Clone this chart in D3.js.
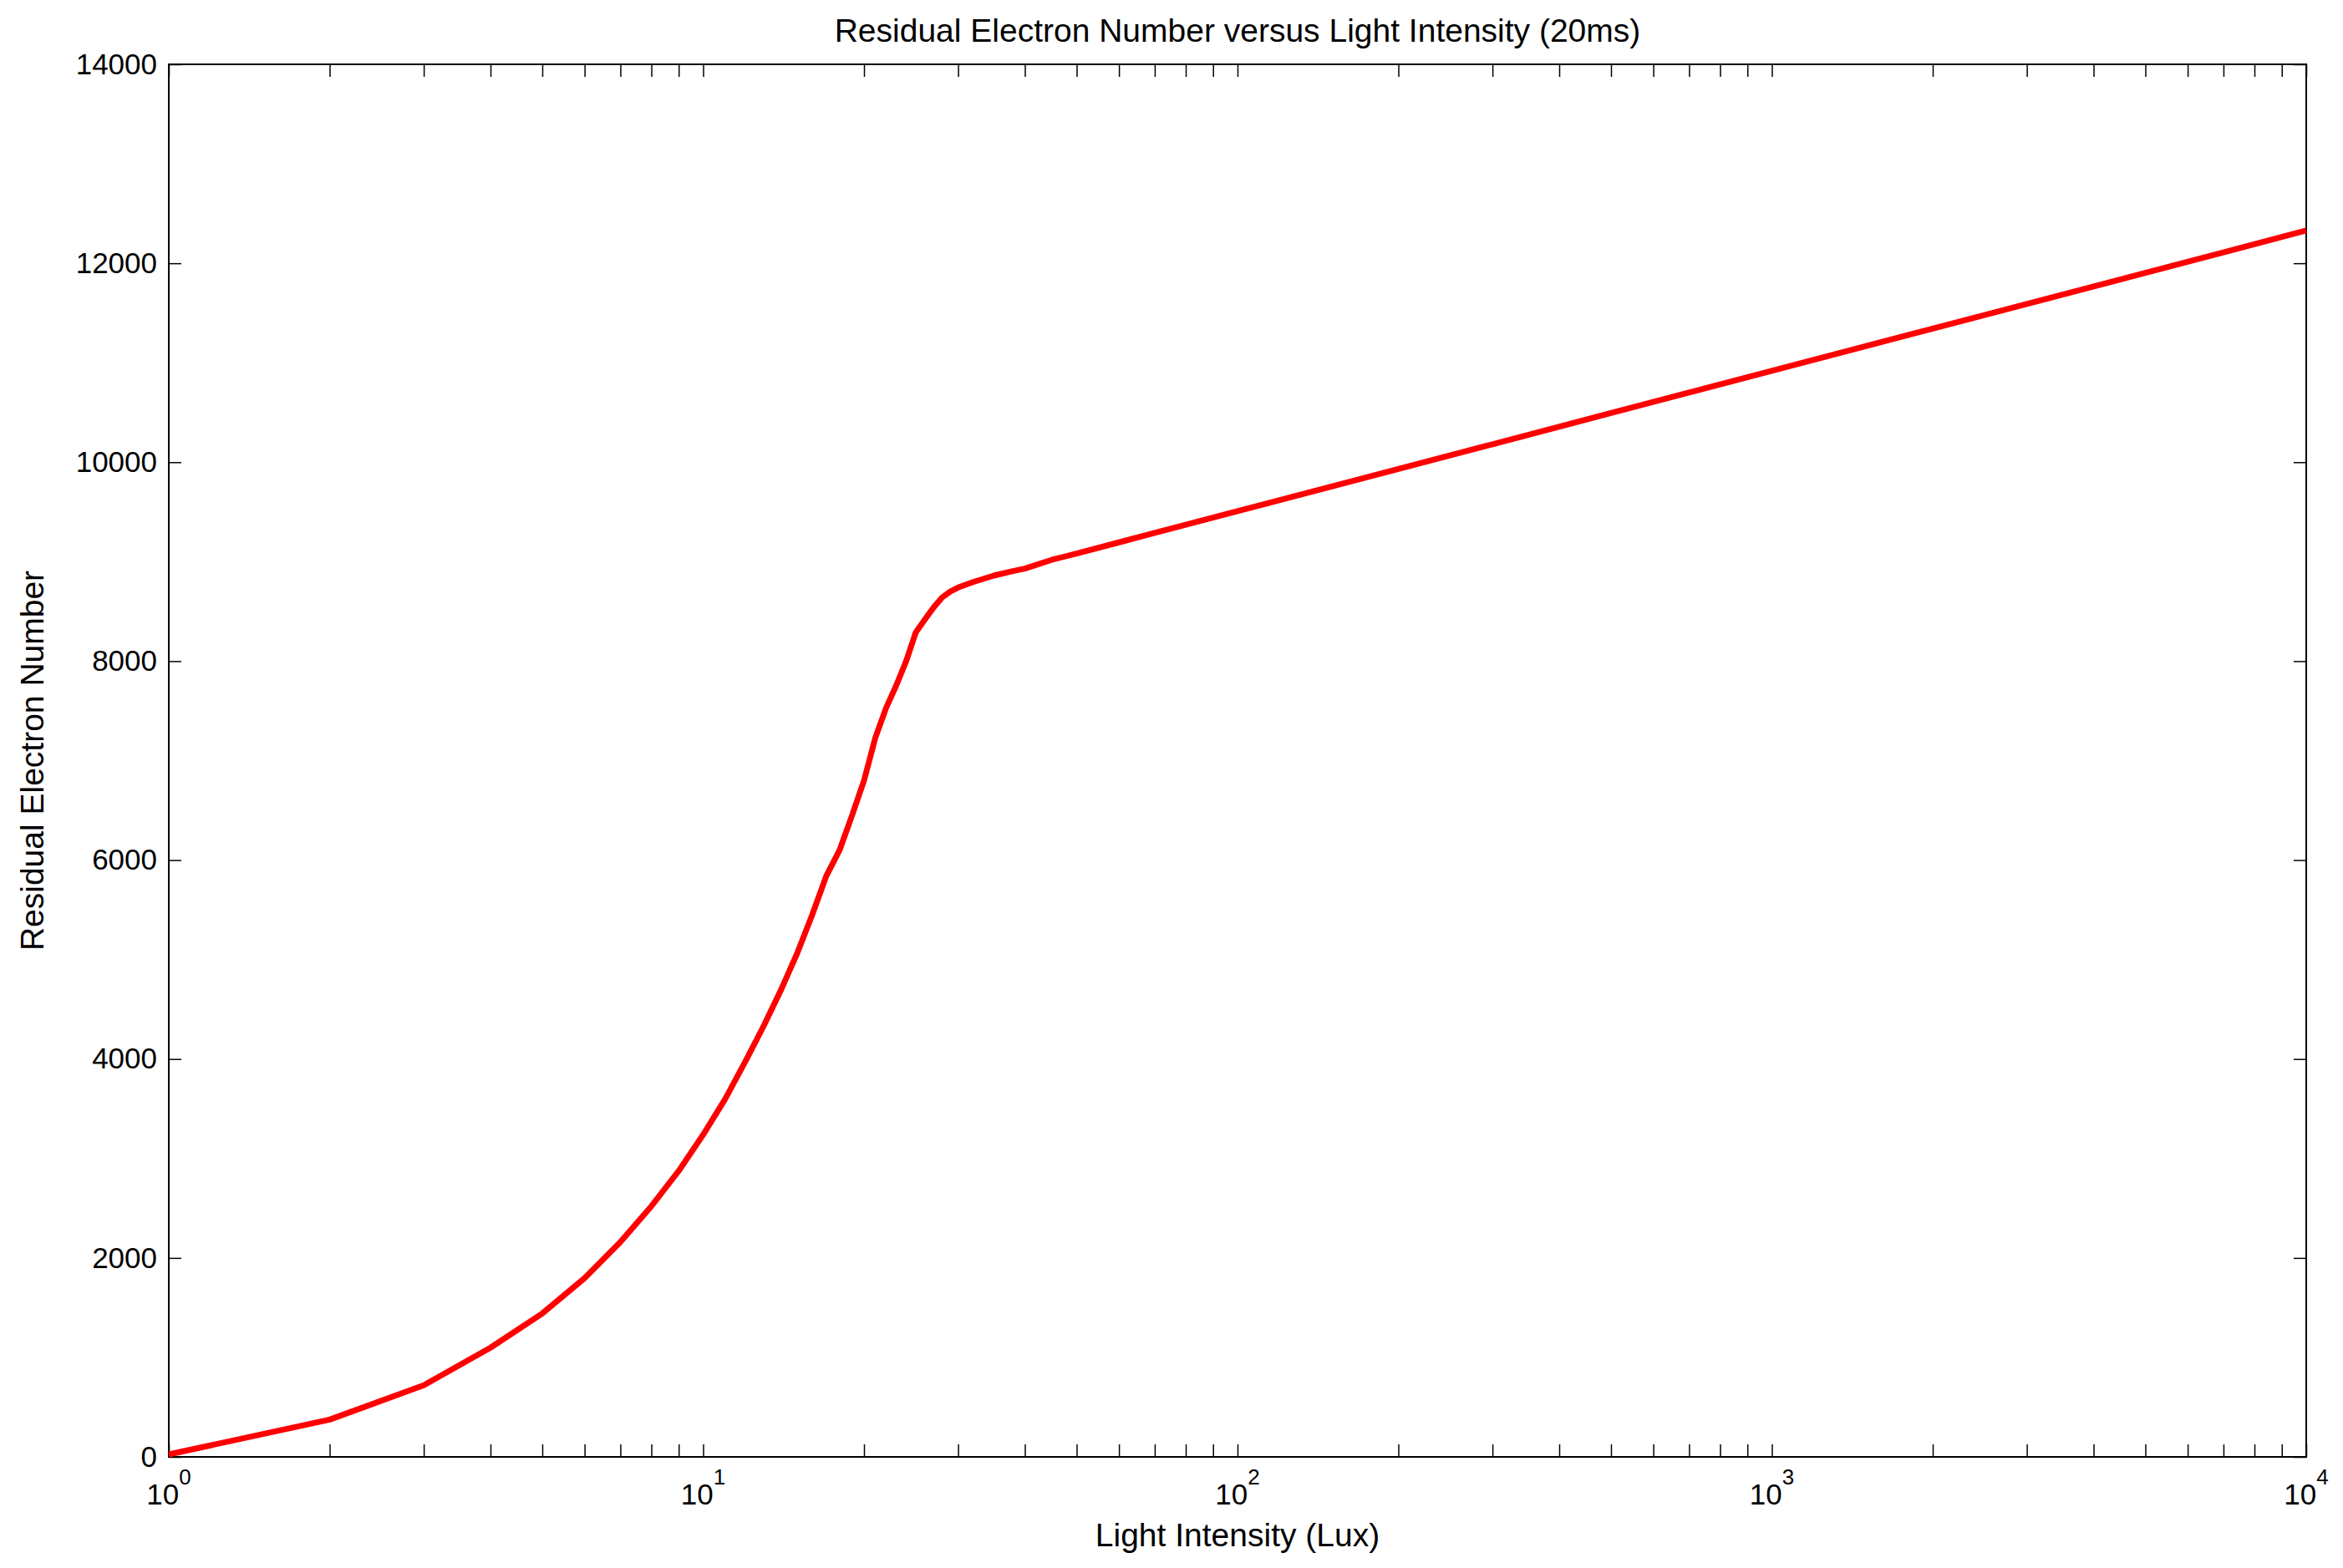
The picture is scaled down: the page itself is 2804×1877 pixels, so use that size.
<!DOCTYPE html>
<html>
<head>
<meta charset="utf-8">
<script src="https://cdn.jsdelivr.net/npm/d3@7"></script>
<style>
  body { margin: 0; background: #fff; }
  svg { display: block; font-family: "Liberation Sans", Arial, sans-serif; }
  .tick line { stroke: #000; stroke-width: 1.5; }
</style>
</head>
<body>
<div class="d3-wrapper"></div>
<script>
// values
const LUX = [1, 2, 3, 4, 5, 6, 7, 8, 9, 10, 11, 12, 13, 14, 15, 16, 17, 18, 19, 20,
  21, 22, 23, 24, 25, 26, 27, 28, 29, 30, 32, 35, 38, 40, 45, 50, 60, 70, 100,
  150, 200, 300, 500, 700, 1000, 2000, 3000, 5000, 7000, 10000];
const ELECTRONS = [25, 375, 720, 1098, 1442, 1797, 2161, 2520, 2875, 3239, 3600, 3977, 4340, 4700, 5064, 5450, 5840, 6100, 6451, 6800,
  7230, 7530, 7760, 8005, 8290, 8420, 8540, 8640, 8700, 8740, 8795, 8860, 8905, 8930, 9020, 9082, 9194, 9289, 9507,
  9755, 9932, 10180, 10494, 10700, 10918, 11343, 11591, 11904, 12110, 12329];
const X_MAJOR = [1, 10, 100, 1000, 10000];
const Y_TICKS = [0, 2000, 4000, 6000, 8000, 10000, 12000, 14000];

const MARGIN = { top: 77, right: 44, bottom: 133, left: 202 };
const OUTER_WIDTH = 2804,
  OUTER_HEIGHT = 1877,
  INNER_WIDTH = OUTER_WIDTH - MARGIN.left - MARGIN.right,
  INNER_HEIGHT = OUTER_HEIGHT - MARGIN.top - MARGIN.bottom;
const TICK = 15;

const xScale = d3.scaleLog().domain([1, 10000]).range([0, INNER_WIDTH]);
const yScale = d3.scaleLinear().domain([0, 14000]).range([INNER_HEIGHT, 0]);

const svg = d3.select('.d3-wrapper').append('svg')
  .attr('width', OUTER_WIDTH)
  .attr('height', OUTER_HEIGHT)
  .append('g')
  .attr('transform', `translate(${MARGIN.left}, ${MARGIN.top})`);

const xMinor = xScale.ticks();

// ticks pointing inward on all four sides
svg.append('g')
  .attr('transform', `translate(0,${INNER_HEIGHT})`)
  .call(d3.axisBottom(xScale).tickValues(xMinor).tickFormat('').tickSize(-TICK).tickSizeOuter(0))
  .call(g => g.select('.domain').remove());
svg.append('g')
  .call(d3.axisTop(xScale).tickValues(xMinor).tickFormat('').tickSize(-TICK).tickSizeOuter(0))
  .call(g => g.select('.domain').remove());
svg.append('g')
  .call(d3.axisLeft(yScale).tickValues(Y_TICKS).tickFormat(d3.format('d'))
    .tickSize(-TICK).tickSizeOuter(0).tickPadding(14))
  .call(g => g.select('.domain').remove())
  .call(g => g.attr('font-size', 35).attr('font-family', null))
  .call(g => g.selectAll('text').attr('fill', '#000'));
svg.append('g')
  .attr('transform', `translate(${INNER_WIDTH},0)`)
  .call(d3.axisRight(yScale).tickValues(Y_TICKS).tickFormat('').tickSize(-TICK).tickSizeOuter(0))
  .call(g => g.select('.domain').remove());

// x tick labels as 10 with a superscript power
const xLabels = svg.append('g').selectAll('text')
  .data(X_MAJOR)
  .enter().append('text')
  .attr('x', d => xScale(d))
  .attr('y', INNER_HEIGHT + 57)
  .attr('text-anchor', 'middle')
  .style('font-size', '35px');
xLabels.append('tspan').text('10');
xLabels.append('tspan')
  .attr('dy', -24)
  .style('font-size', '26px')
  .text(d => Math.round(Math.log10(d)));

// box
svg.append('rect')
  .attr('width', INNER_WIDTH)
  .attr('height', INNER_HEIGHT)
  .attr('fill', 'none')
  .attr('stroke', '#000')
  .attr('stroke-width', 2);

const line = d3.line()
  .x((d, i) => xScale(LUX[i]))
  .y(d => yScale(d));

svg.append('path')
  .datum(ELECTRONS)
  .attr('fill', 'none')
  .attr('stroke', '#ff0000')
  .attr('stroke-width', 7)
  .attr('stroke-linejoin', 'round')
  .attr('d', line);

svg.append('text')
  .attr('x', INNER_WIDTH / 2)
  .attr('y', -27)
  .attr('text-anchor', 'middle')
  .style('font-size', '39px')
  .text('Residual Electron Number versus Light Intensity (20ms)');

svg.append('text')
  .attr('x', INNER_WIDTH / 2)
  .attr('y', INNER_HEIGHT + 107)
  .attr('text-anchor', 'middle')
  .style('font-size', '39px')
  .text('Light Intensity (Lux)');

svg.append('text')
  .attr('transform', 'rotate(-90)')
  .attr('x', -INNER_HEIGHT / 2)
  .attr('y', -150)
  .attr('text-anchor', 'middle')
  .style('font-size', '39px')
  .text('Residual Electron Number');
</script>
</body>
</html>
